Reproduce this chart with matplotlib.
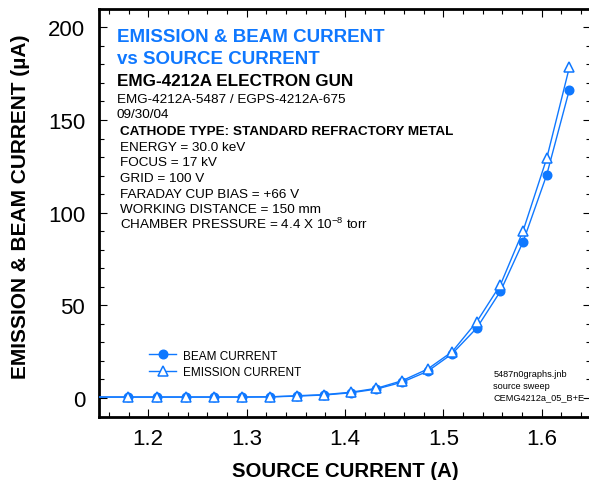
import matplotlib
matplotlib.use("Agg")
import matplotlib.pyplot as plt
from matplotlib.ticker import MultipleLocator

plt.rcParams['font.family'] = ['Liberation Sans', 'DejaVu Sans']
plt.rcParams['mathtext.fontset'] = 'custom'
plt.rcParams['mathtext.rm'] = 'Liberation Sans'
plt.rcParams['mathtext.it'] = 'Liberation Sans:italic'
plt.rcParams['mathtext.bf'] = 'Liberation Sans:bold'

# ---- data ----
source_current = [1.12, 1.179, 1.209, 1.238, 1.267, 1.295, 1.324, 1.351, 1.379, 1.406,
                  1.432, 1.458, 1.484, 1.509, 1.534, 1.558, 1.581, 1.605, 1.628]
emission_current = [0.5, 0.5, 0.5, 0.5, 0.5, 0.5, 0.6, 1.2, 1.8, 3.1,
                     5.2, 9.3, 15.6, 25.0, 41.2, 61.1, 90.2, 129.3, 178.4]
beam_current = [0.5, 0.5, 0.5, 0.5, 0.5, 0.5, 0.6, 1.0, 1.6, 2.8,
                4.8, 8.5, 14.4, 23.9, 37.8, 57.6, 84.3, 120.4, 166.3]
x_ticks = [1.2, 1.3, 1.4, 1.5, 1.6]
y_ticks = [0, 50, 100, 150, 200]
series_labels = ["BEAM CURRENT", "EMISSION CURRENT"]

BLUE = '#0f78ff'
W, H = 589, 481
fig = plt.figure(figsize=(W / 100, H / 100), dpi=100)
ax = fig.add_axes([99 / W, 1 - 417.5 / H, (591 - 99) / W, (417.5 - 9.8) / H])

ax.plot(source_current, beam_current, color=BLUE, lw=1.0, marker='o', ms=6.2,
        mfc=BLUE, mec=BLUE, label=series_labels[0], zorder=3, clip_on=True)
ax.plot(source_current, emission_current, color=BLUE, lw=1.0, marker='^', ms=7.3,
        mfc='white', mec=BLUE, mew=1.1, label=series_labels[1], zorder=4, clip_on=True)

ax.set_xlim(1.15, 1.65)
ax.set_ylim(-10, 210)
ax.set_xticks(x_ticks)
ax.set_xticklabels([f"{v:.1f}" for v in x_ticks])
ax.set_yticks(y_ticks)
ax.xaxis.set_minor_locator(MultipleLocator(0.02))
ax.yaxis.set_minor_locator(MultipleLocator(10))
ax.tick_params(which='both', direction='in', top=True, right=True, width=0.8, color='black')
ax.tick_params(which='major', length=6, labelsize=16)
ax.tick_params(axis='x', which='major', pad=8.5)
ax.tick_params(axis='y', which='major', pad=10)
ax.tick_params(which='minor', length=3.5)
for sp in ax.spines.values():
    sp.set_linewidth(2.0)

leg = ax.legend(loc='upper left', bbox_to_anchor=(149 / W, 1 - 350.5 / H),
                bbox_transform=fig.transFigure, frameon=False, fontsize=8.5,
                handlelength=2.3, handletextpad=0.6, labelspacing=0.35,
                borderpad=0, borderaxespad=0)


def T(x, y, s, **kw):
    fig.text(x / W, 1 - y / H, s, va='baseline', ha='left', **kw)


T(116.7, 42.3, "EMISSION & BEAM CURRENT", fontsize=13.5, fontweight='bold', color=BLUE)
T(116.7, 64.3, "vs SOURCE CURRENT", fontsize=13.5, fontweight='bold', color=BLUE)
T(116.7, 86.0, "EMG-4212A ELECTRON GUN", fontsize=12.3, fontweight='bold', color='black')
T(116.7, 102.7, "EMG-4212A-5487 / EGPS-4212A-675", fontsize=9.7, color='black')
T(116.7, 118.3, "09/30/04", fontsize=9.7, color='black')
T(120, 135.0, "CATHODE TYPE: STANDARD REFRACTORY METAL", fontsize=9.7, fontweight='bold', color='black')
T(120, 150.7, "ENERGY = 30.0 keV", fontsize=9.7)
T(120, 166.5, "FOCUS = 17 kV", fontsize=9.7)
T(120, 182.0, "GRID = 100 V", fontsize=9.7)
T(120, 197.6, "FARADAY CUP BIAS = +66 V", fontsize=9.7)
T(120, 213.3, "WORKING DISTANCE = 150 mm", fontsize=9.7)
T(120, 229.0, "CHAMBER PRESSURE = 4.4 X 10$^{\\mathregular{-8}}$ torr", fontsize=9.7)

T(493.3, 377.0, "5487n0graphs.jnb", fontsize=6.6)
T(493.3, 388.7, "source sweep", fontsize=6.6)
T(493.3, 400.4, "CEMG4212a_05_B+E", fontsize=6.6)

fig.text(345 / W, 1 - 477.5 / H, "SOURCE CURRENT (A)", ha='center', va='baseline',
         fontsize=14.7, fontweight='bold')
fig.text(20.5 / W, 1 - 207 / H, "EMISSION & BEAM CURRENT (\u00b5A)", ha='center', va='center',
         rotation=90, fontsize=15, fontweight='bold')

fig.savefig("out.png", dpi=100)
